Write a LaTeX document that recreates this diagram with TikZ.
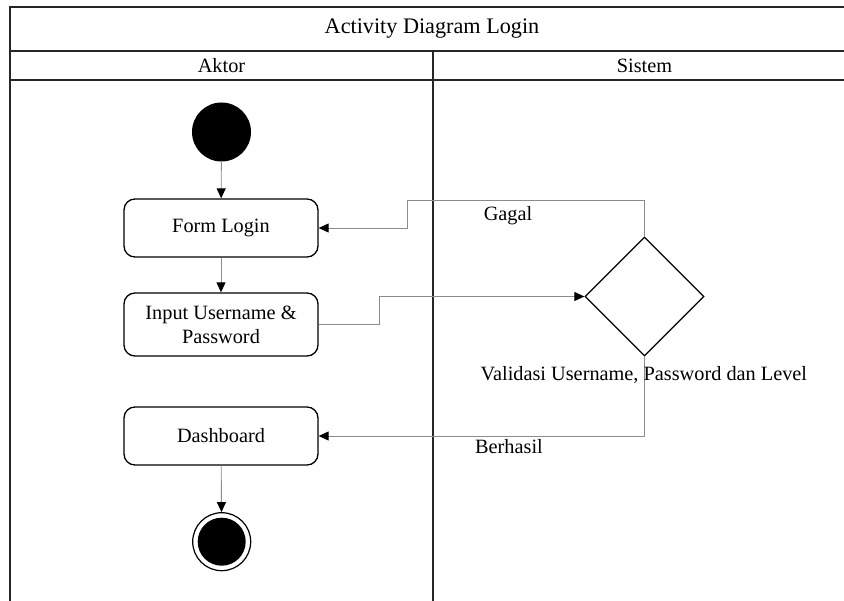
\documentclass[tikz,border=0pt]{standalone}
\usepackage{fontspec}
\setmainfont{Liberation Serif}
\usetikzlibrary{arrows.meta,shapes.geometric}
\tikzset{
  frameline/.style={line width=2pt, draw=black!85},
  actbox/.style={draw=black, line width=1.3pt, rounded corners=11pt, fill=white,
    minimum width=194pt, align=center, inner sep=0pt,
    font=\fontsize{20.3}{24}\selectfont},
  flow/.style={draw=black!45, line width=0.9pt,
    -{Triangle[length=10pt,width=9pt,fill=black,color=black]}},
  lbl/.style={font=\fontsize{20.3}{24}\selectfont, inner sep=0pt},
  hdr/.style={font=\fontsize{20.3}{24}\selectfont, inner sep=0pt},
}
\begin{document}
\begin{tikzpicture}[x=1pt,y=-1pt]
\useasboundingbox (0,0) rectangle (844,601);
\fill[white] (0,0) rectangle (844,601);
% frame
\draw[frameline] (10,601) -- (10,7) -- (844,7);
\draw[frameline] (10,51) -- (844,51);
\draw[frameline] (10,80) -- (844,80);
\draw[frameline] (433.3,51) -- (433.3,601);
\node[hdr, font=\fontsize{22.2}{26}\selectfont] (title) at (432,29) {Activity Diagram Login};
\node[hdr] (aktor) at (221.5,66) {Aktor};
\node[hdr] (sistem) at (644.5,66) {Sistem};
% nodes
\node[circle, fill=black, minimum size=59pt, inner sep=0pt] (start) at (221.5,132) {};
\node[actbox, minimum height=58pt] (form) at (221,228) {Form Login};
\node[actbox, minimum height=63pt] (input) at (221,324.5) {Input Username \&\\Password};
\node[actbox, minimum height=58pt] (dash) at (221,436) {Dashboard};
\node[circle, draw=black, line width=1.2pt, fill=white, minimum size=58pt, inner sep=0pt] (end) at (221.7,541.7) {};
\fill[black] (end.center) circle (24pt);
\node[diamond, draw=black, line width=1.3pt, minimum width=119pt, minimum height=119pt, inner sep=0pt] (dia) at (644.5,296.5) {};
% coordinates for bends
\coordinate (b1) at (379,324.5);
\coordinate (b2) at (379,296.5);
\coordinate (g1) at (644.5,200);
\coordinate (g2) at (407,200);
\coordinate (g3) at (407,228);
\coordinate (h1) at (644.5,436);
% connectors
\draw[flow] (start) -- (form);
\draw[flow] (form) -- (input);
\draw[flow] (dash) -- (end);
\draw[flow] (input.east) -- (b1) -- (b2) -- (dia.west);
\draw[flow] (dia.north) -- (g1) -- (g2) -- (g3) -- (form.east);
\draw[flow] (dia.south) -- (h1) -- (dash.east);
% labels
\node[lbl] (gagal) at (508,216) {Gagal};
\node[lbl, anchor=west] (valid) at (480.5,375.5) {Validasi Username, Password dan Level};
\node[lbl] (berhasil) at (509,447) {Berhasil};
\end{tikzpicture}
\end{document}
